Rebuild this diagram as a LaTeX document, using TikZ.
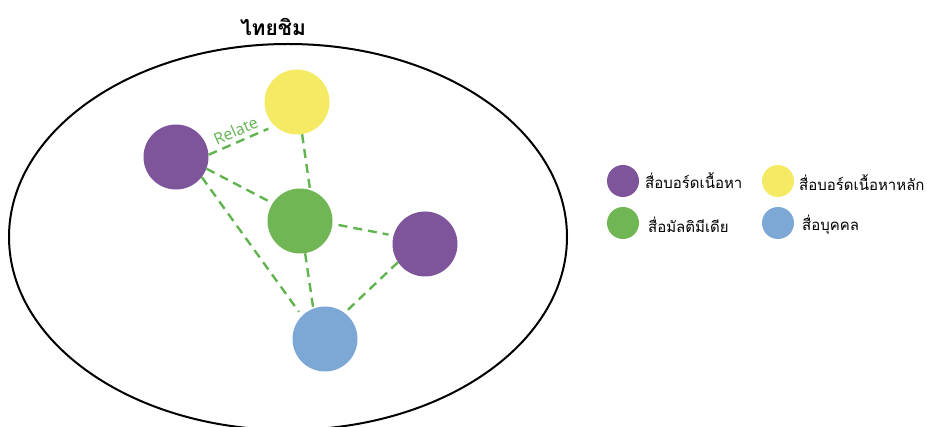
\documentclass[tikz,border=0pt]{standalone}
\usepackage{fontspec}
\newfontfamily\thaifont[Script=Thai]{Loma}
\newfontfamily\labelfont{Open Sans}
\definecolor{cpurple}{RGB}{126,84,154}
\definecolor{cyellow}{RGB}{244,234,100}
\definecolor{cgreen}{RGB}{112,182,84}
\definecolor{cblue}{RGB}{125,167,213}
\definecolor{clink}{RGB}{98,180,80}
\begin{document}
\begin{tikzpicture}[x=1pt,y=-1pt,
  ball/.style={circle,fill=#1,draw=none,minimum size=65pt,inner sep=0pt},
  dot/.style={circle,fill=#1,draw=none,minimum size=32pt,inner sep=0pt},
  link/.style={draw=clink,line width=2.4pt,dash pattern=on 9pt off 6pt},
  linklabel/.style={text=clink,font=\labelfont\fontsize{16}{18}\selectfont,inner sep=0pt},
  legend/.style={anchor=west,font=\thaifont\fontsize{15}{18}\selectfont,inner sep=0pt}]
\useasboundingbox (0,0) rectangle (927,427);

% outer boundary and its title
\draw[line width=2pt] (288,237) ellipse [x radius=279, y radius=193];
\node[font=\thaifont\bfseries\fontsize{21}{24}\selectfont] (title) at (273,27) {ไทยชิม};

% media nodes
\node[ball=cyellow] (main) at (297,102) {};
\node[ball=cpurple] (boardA) at (176,157) {};
\node[ball=cgreen] (multi) at (300,221) {};
\node[ball=cpurple] (boardB) at (425,244) {};
\node[ball=cblue] (person) at (325,339) {};

% relations
\draw[link,shorten >=7pt] (boardA.4) -- node[pos=0.48,sloped,above=4pt,linklabel]{Relate} (main.227);
\draw[link] (main.-81) -- (multi.72);
\draw[link] (boardA.-21) -- (multi.147);
\draw[link,shorten >=5pt] (boardA.-38) -- (person.135);
\draw[link] (multi.-81) -- (person.111);
\draw[link,shorten <=6pt,shorten >=5pt] (multi.-5) -- (boardB.165);
\draw[link,shorten >=3pt] (boardB.214) -- (person.53);

% legend
\node[dot=cpurple] (lgA) at (623,181) {};
\node[legend] (lgAt) at (645,181) {สื่อบอร์ดเนื้อหา};
\node[dot=cyellow] (lgB) at (778,181) {};
\node[legend] (lgBt) at (799,183) {สื่อบอร์ดเนื้อหาหลัก};
\node[dot=cgreen] (lgC) at (623,223) {};
\node[legend] (lgCt) at (648,225) {สื่อมัลติมีเดีย};
\node[dot=cblue] (lgD) at (778,223) {};
\node[legend] (lgDt) at (802,225) {สื่อบุคคล};
\end{tikzpicture}
\end{document}
